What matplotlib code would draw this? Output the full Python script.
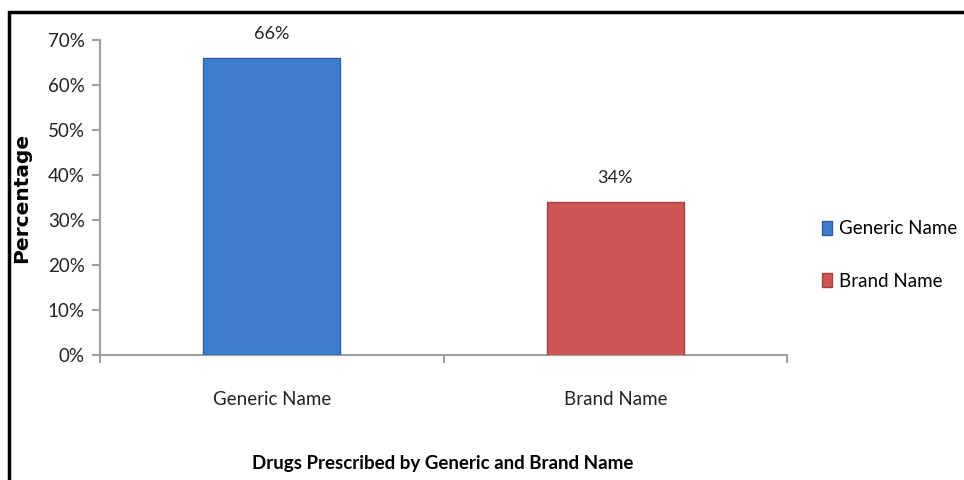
import matplotlib
matplotlib.use("Agg")
import matplotlib.pyplot as plt
from matplotlib.patches import Rectangle
from matplotlib.ticker import FuncFormatter

categories = ["Generic Name", "Brand Name"]
values = [66, 34]
colors = ["#3F7DCB", "#CD5553"]
edge_colors = ["#2F5F9E", "#A54240"]
yticks = [0, 10, 20, 30, 40, 50, 60, 70]

font = ["Lato", "DejaVu Sans"]
plt.rcParams['font.family'] = font

fig = plt.figure(figsize=(9.64, 4.8), dpi=100)
ax = fig.add_axes([100/964, 1 - 355/480, 687/964, 315/480])

x = list(range(len(categories)))
bars = ax.bar(x, values, width=0.40, color=colors, edgecolor=edge_colors,
              linewidth=1.0, zorder=3)
for xi, v in zip(x, values):
    ax.text(xi, v + 3.5, f"{v}%", ha="center", va="bottom", fontsize=13, color="#222222")

ax.set_xlim(-0.5, 1.5)
ax.set_ylim(0, 70)
ax.set_yticks(yticks)
ax.yaxis.set_major_formatter(FuncFormatter(lambda v, p: f"{int(v)}%"))
ax.set_xticks([-0.5, 0.5, 1.5])
ax.set_xticklabels([])
ax.tick_params(axis="both", direction="out", color="#A0A0A0", width=1.5, length=6)
ax.tick_params(axis="y", labelsize=13.5, pad=5, labelcolor="#222222")
for xi, c in zip(x, categories):
    ax.text(xi, -8, c, ha="center", va="top", fontsize=13.5, color="#222222")

for s in ["top", "right"]:
    ax.spines[s].set_visible(False)
for s in ["left", "bottom"]:
    ax.spines[s].set_color("#A0A0A0")
    ax.spines[s].set_linewidth(1.5)

ax.set_ylabel("Percentage", fontsize=14.5, fontweight="bold",
              family=["DejaVu Sans"])
ax.yaxis.set_label_coords(-69/687, 0.5)
fig.text(443/964, 1 - 463/480, "Drugs Prescribed by Generic and Brand Name",
         ha="center", va="center", fontsize=13.5, fontweight="bold")

handles = [Rectangle((0, 0), 1, 1, facecolor=c, edgecolor=e) for c, e in zip(colors, edge_colors)]
fig.legend(handles, categories, loc="center left", bbox_to_anchor=(809/964, 1 - 255/480),
           frameon=False, fontsize=13.5, handlelength=0.55, handleheight=0.75,
           handletextpad=0.35, labelspacing=1.9, borderpad=0.2)

# outer frame
fig.add_artist(Rectangle((9/964, -0.01), 1.0, 1 - 12/480 + 0.01, transform=fig.transFigure,
                         fill=False, edgecolor="black", linewidth=2.5))

fig.savefig("out.png", dpi=100)
